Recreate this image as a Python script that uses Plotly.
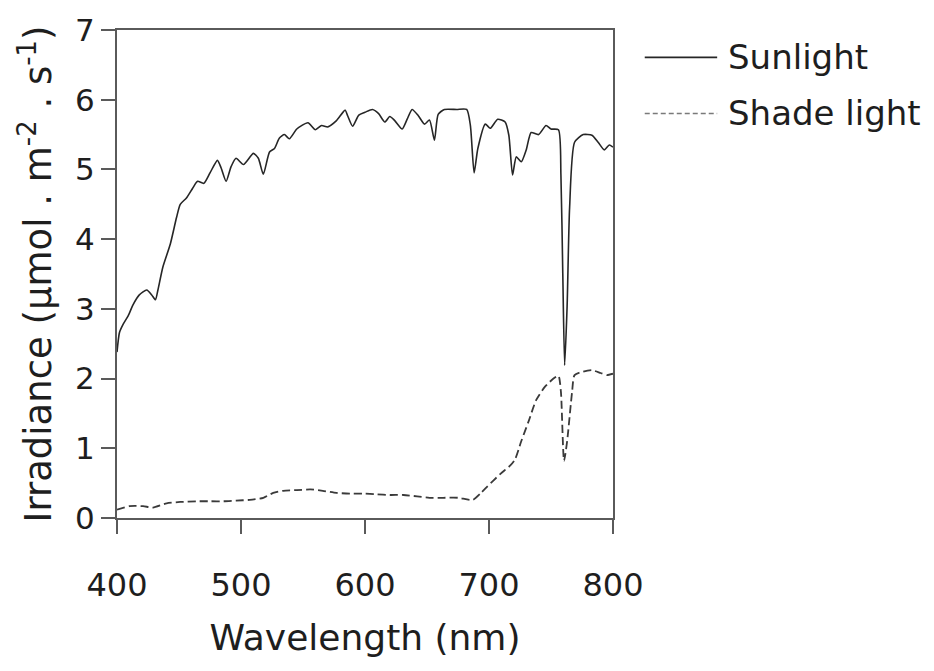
import plotly.graph_objects as go

# Sunlight spectrum (nm, µmol m-2 s-1)
sun_wl = [400, 402, 405, 409, 413, 418, 424, 428, 431, 433, 437, 443, 448, 451, 456, 461,
          465, 470, 475, 481, 484, 488, 492, 496, 502, 510, 514, 518, 523, 527, 531, 535,
          539, 545, 554, 560, 565, 570, 577, 584, 586, 590, 595, 600, 606, 611, 616, 620,
          624, 630, 634, 638, 643, 648, 652, 656, 659, 664, 674, 682, 685, 688, 691, 697,
          701, 707, 713, 716, 719, 722, 726, 730, 734, 740, 746, 750, 756, 758, 759.5, 761,
          763, 765, 769, 776, 783, 788, 793, 797, 800]
sun_val = [2.38, 2.66, 2.78, 2.90, 3.06, 3.20, 3.27, 3.20, 3.13, 3.27, 3.60, 3.93, 4.31, 4.50, 4.59, 4.73,
           4.83, 4.80, 4.95, 5.13, 5.02, 4.83, 5.04, 5.16, 5.07, 5.23, 5.16, 4.93, 5.25, 5.30, 5.45, 5.50,
           5.44, 5.58, 5.67, 5.57, 5.63, 5.61, 5.70, 5.85, 5.77, 5.62, 5.78, 5.82, 5.86, 5.80, 5.68, 5.76,
           5.70, 5.58, 5.72, 5.86, 5.77, 5.65, 5.71, 5.42, 5.79, 5.86, 5.86, 5.86, 5.63, 4.95, 5.30, 5.65,
           5.59, 5.72, 5.68, 5.49, 4.92, 5.18, 5.11, 5.28, 5.53, 5.50, 5.63, 5.58, 5.57, 4.92, 3.51, 2.19,
           3.04, 4.45, 5.39, 5.50, 5.49, 5.39, 5.28, 5.35, 5.32]

# Shade light spectrum
shade_wl = [400, 410, 421, 429, 440, 451, 464, 475, 486, 496, 507, 518, 526, 534, 545, 556,
            566, 577, 588, 599, 609, 620, 631, 642, 652, 663, 675, 687, 693, 698, 709, 717,
            721, 726, 732, 738, 745, 752, 756, 758, 760.5, 763, 767, 769, 776, 783, 790, 795, 800]
shade_val = [0.12, 0.17, 0.17, 0.15, 0.21, 0.23, 0.24, 0.24, 0.24, 0.25, 0.26, 0.29, 0.36, 0.39, 0.40, 0.41,
             0.39, 0.36, 0.35, 0.35, 0.34, 0.33, 0.33, 0.31, 0.29, 0.29, 0.29, 0.26, 0.35, 0.44, 0.63, 0.75,
             0.84, 1.10, 1.39, 1.69, 1.88, 2.00, 2.04, 1.81, 0.82, 1.10, 1.81, 2.05, 2.10, 2.12, 2.08, 2.05, 2.07]

series_names = ["Sunlight", "Shade light"]
x_ticks = [400, 500, 600, 700, 800]
y_ticks = [0, 1, 2, 3, 4, 5, 6, 7]

FONT = "DejaVu Sans"
AX = "#5a5a5a"
TXT = "#1e1e1e"

fig = go.Figure()
fig.add_trace(go.Scatter(x=sun_wl, y=sun_val, mode="lines", name=series_names[0],
                         line=dict(color="#262626", width=1.6, shape="spline", smoothing=0.6),
                         showlegend=False))
fig.add_trace(go.Scatter(x=shade_wl, y=shade_val, mode="lines", name=series_names[1],
                         line=dict(color="#3a3a3a", width=1.8, dash="8px,4px", shape="spline", smoothing=0.6),
                         showlegend=False))

# custom legend (long line samples as in the reference)
leg = [(series_names[0], 0.945, 0.944, "solid", "#262626"),
       (series_names[1], 0.830, 0.829, "5px,3px", "#7a7a7a")]
for name, ty, ly, dash, col in leg:
    fig.add_shape(type="line", xref="paper", yref="paper", x0=1.064, x1=1.21,
                  y0=ly, y1=ly, line=dict(color=col, width=1.6, dash=dash))
    fig.add_annotation(text=name, xref="paper", yref="paper", x=1.228, y=ty, xanchor="left",
                       yanchor="middle", showarrow=False, font=dict(family=FONT, size=34, color=TXT))

fig.update_layout(
    width=934, height=671,
    margin=dict(l=117, r=321, t=23, b=153),
    paper_bgcolor="white", plot_bgcolor="white",
    font=dict(family=FONT, color=TXT),
    showlegend=False,
)
fig.update_xaxes(range=[400, 800], tickvals=x_ticks, ticktext=[str(v) for v in x_ticks],
                 showgrid=False, zeroline=False, showline=True, mirror=True,
                 linecolor=AX, linewidth=2, ticks="outside", ticklen=14, tickwidth=2, tickcolor=AX,
                 tickfont=dict(family=FONT, size=32, color=TXT), ticklabelstandoff=24,
                 title=dict(text="Wavelength (nm)", font=dict(family=FONT, size=36, color=TXT), standoff=21))
fig.update_yaxes(range=[0, 7], tickvals=y_ticks, ticktext=[str(v) for v in y_ticks],
                 showgrid=False, zeroline=False, showline=True, mirror=True,
                 linecolor=AX, linewidth=2, ticks="outside", ticklen=14, tickwidth=2, tickcolor=AX,
                 tickfont=dict(family=FONT, size=31, color=TXT),
                 title=dict(text="Irradiance (µmol . m<sup>-2</sup> . s<sup>-1</sup>)",
                            font=dict(family=FONT, size=37, color=TXT), standoff=12))

fig.write_html("out.html")
